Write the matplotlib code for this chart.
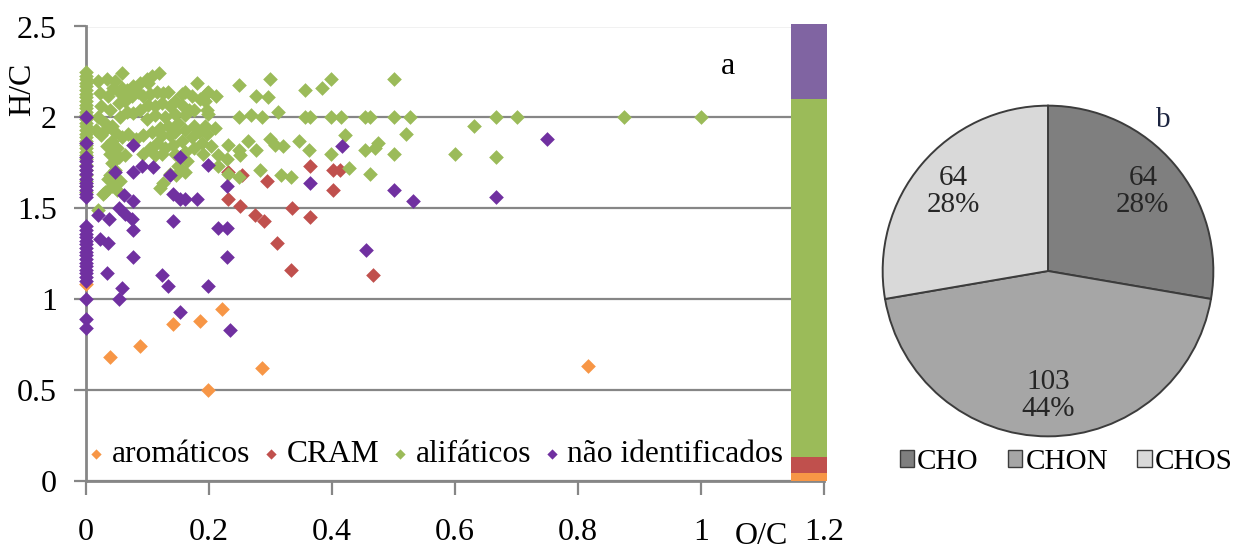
import matplotlib.pyplot as plt
from matplotlib.patches import Patch
import numpy as np

plt.rcParams["font.family"] = ["Liberation Serif", "DejaVu Serif"]

# ---- panel a: van Krevelen (O/C vs H/C) ----
arom_oc = [0.0, 0.039, 0.087, 0.142, 0.185, 0.221, 0.199, 0.286, 0.817]
arom_hc = [1.08, 0.68, 0.74, 0.86, 0.877, 0.945, 0.497, 0.619, 0.63]

cram_oc = [0.231, 0.253, 0.295, 0.231, 0.250, 0.275, 0.289, 0.335,
           0.364, 0.364, 0.401, 0.413, 0.401, 0.310, 0.334, 0.467]
cram_hc = [1.70, 1.68, 1.65, 1.55, 1.51, 1.46, 1.43, 1.50,
           1.45, 1.73, 1.71, 1.71, 1.60, 1.31, 1.16, 1.13]

alif_oc = [
    0.0, 0.0, 0.0, 0.0, 0.0, 0.0, 0.0, 0.0, 0.0, 0.0, 0.0, 0.0, 0.0, 0.0,
    0.0, 0.0, 0.0, 0.0, 0.0, 0.0, 0.0, 0.0, 0.0, 0.0, 0.0, 0.0, 0.0, 0.0,
    0.0, 0.0, 0.0,
    0.020, 0.034, 0.058, 0.047, 0.118, 0.108, 0.099, 0.088, 0.077, 0.066,
    0.055, 0.044, 0.036, 0.023, 0.025, 0.020, 0.017, 0.031, 0.042, 0.039,
    0.053, 0.063, 0.074, 0.085, 0.093, 0.104, 0.115, 0.126, 0.134, 0.161,
    0.180, 0.199, 0.212, 0.194, 0.196, 0.172, 0.156, 0.145, 0.137, 0.123,
    0.112, 0.101, 0.088, 0.077, 0.066, 0.055, 0.099, 0.112, 0.128, 0.145,
    0.161, 0.168, 0.150, 0.134, 0.120, 0.107, 0.093, 0.082, 0.069, 0.058,
    0.047, 0.034, 0.025, 0.042, 0.034, 0.050, 0.039, 0.053, 0.042, 0.047,
    0.063, 0.036, 0.042, 0.031, 0.050, 0.055, 0.028, 0.123, 0.137, 0.145,
    0.161, 0.175, 0.183, 0.194, 0.210, 0.172, 0.156, 0.142, 0.128, 0.115,
    0.104, 0.093, 0.112, 0.123, 0.145, 0.161, 0.175, 0.188, 0.204, 0.191,
    0.164, 0.150, 0.161, 0.147, 0.137, 0.126, 0.120, 0.231, 0.248, 0.264,
    0.277, 0.250, 0.283, 0.299, 0.299, 0.277, 0.296, 0.248, 0.248, 0.269,
    0.286, 0.215, 0.231, 0.248, 0.229, 0.215, 0.101, 0.058, 0.020, 0.047,
    0.039, 0.156, 0.196, 0.185, 0.175, 0.199, 0.196,
    0.312, 0.356, 0.383, 0.399, 0.500, 0.356, 0.364, 0.399, 0.415, 0.453,
    0.462, 0.500, 0.527, 0.631, 0.667, 0.700, 0.875, 1.000, 0.521, 0.421,
    0.307, 0.320, 0.347, 0.363, 0.399, 0.453, 0.470, 0.475, 0.500, 0.600,
    0.667, 0.317, 0.333, 0.428, 0.461,
]
alif_hc = [
    2.25, 2.23, 2.21, 2.19, 2.17, 2.15, 2.13, 2.11, 2.09, 2.07, 2.05, 2.03,
    2.01, 1.99, 1.97, 1.95, 1.93, 1.91, 1.89, 1.87, 1.85, 1.83, 1.81, 1.79,
    1.77, 1.74, 1.71, 1.68, 1.65, 1.62, 1.59,
    2.20, 2.21, 2.245, 2.20, 2.245, 2.227, 2.21, 2.19, 2.175, 2.15,
    2.135, 2.16, 2.12, 2.135, 2.06, 2.00, 1.93, 1.97, 1.95, 2.04,
    2.08, 2.09, 2.12, 2.14, 2.12, 2.13, 2.14, 2.135, 2.14, 2.14,
    2.19, 2.14, 2.12, 2.09, 2.04, 2.12, 2.07, 2.09, 2.06, 2.08,
    2.06, 2.07, 2.04, 2.025, 2.03, 2.00, 1.99, 2.01, 2.00, 2.02,
    2.01, 2.04, 1.97, 1.95, 1.94, 1.92, 1.905, 1.88, 1.91, 1.89,
    1.92, 1.94, 1.90, 1.87, 1.84, 1.83, 1.80, 1.78, 1.75, 1.71,
    1.79, 1.66, 1.62, 1.59, 1.60, 1.65, 1.58, 1.905, 1.90, 1.92,
    1.93, 1.95, 1.92, 1.95, 1.94, 1.89, 1.87, 1.85, 1.83, 1.86,
    1.83, 1.80, 1.79, 1.80, 1.80, 1.81, 1.83, 1.86, 1.84, 1.80,
    1.76, 1.73, 1.70, 1.685, 1.69, 1.64, 1.61, 1.845, 1.82, 1.87,
    1.82, 1.79, 1.71, 1.88, 2.21, 2.12, 2.11, 2.18, 2.00, 2.01,
    2.00, 1.73, 1.69, 1.67, 1.77, 1.79, 2.19, 2.16, 1.49, 1.65,
    1.68, 2.13, 2.135, 2.10, 2.04, 2.02, 1.91,
    2.03, 2.15, 2.16, 2.21, 2.21, 2.00, 2.00, 2.00, 2.00, 2.00,
    2.00, 2.00, 2.00, 1.95, 2.00, 2.00, 2.00, 2.00, 1.91, 1.90,
    1.85, 1.84, 1.87, 1.82, 1.80, 1.82, 1.83, 1.86, 1.80, 1.80,
    1.78, 1.68, 1.67, 1.72, 1.69,
]

nid_oc = [
    0.0, 0.0, 0.0, 0.0, 0.0, 0.0, 0.0, 0.0, 0.0, 0.0, 0.0, 0.0, 0.0, 0.0,
    0.0, 0.0, 0.0, 0.0, 0.0, 0.0, 0.0, 0.0, 0.0, 0.0, 0.0, 0.0, 0.0, 0.0,
    0.0, 0.0, 0.0, 0.0,
    0.020, 0.038, 0.023, 0.036, 0.034, 0.047, 0.053, 0.058, 0.054, 0.061,
    0.063, 0.074, 0.077, 0.076, 0.076, 0.076, 0.076, 0.091, 0.109, 0.123,
    0.134, 0.136, 0.141, 0.142, 0.153, 0.153, 0.161, 0.153, 0.181, 0.199,
    0.199, 0.215, 0.230, 0.230, 0.230, 0.234, 0.364, 0.416, 0.455, 0.500,
    0.532, 0.667, 0.750,
]
nid_hc = [
    2.00, 1.86, 1.78, 1.76, 1.73, 1.71, 1.69, 1.66, 1.64, 1.62, 1.60, 1.58,
    1.56, 1.40, 1.38, 1.36, 1.34, 1.32, 1.30, 1.28, 1.26, 1.24, 1.22, 1.20,
    1.18, 1.16, 1.14, 1.12, 1.10, 1.00, 0.89, 0.84,
    1.46, 1.44, 1.33, 1.31, 1.14, 1.70, 1.50, 1.06, 1.00, 1.57,
    1.47, 1.44, 1.38, 1.85, 1.70, 1.54, 1.23, 1.73, 1.725, 1.13,
    1.07, 1.685, 1.58, 1.43, 1.78, 1.55, 1.55, 0.93, 1.55, 1.74,
    1.07, 1.39, 1.39, 1.62, 1.23, 0.83, 1.64, 1.84, 1.27, 1.60,
    1.54, 1.56, 1.88,
]

series_names = ["aromáticos", "CRAM", "alifáticos", "não identificados"]
series_colors = ["#f79646", "#c0504d", "#9bbb59", "#7030a0"]

# stacked bar on the right edge (H/C units)
bar_heights = [0.043, 0.088, 1.969, 0.414]
bar_colors = ["#f79646", "#c0504d", "#9bbb59", "#8064a2"]

x_ticks = [0, 0.2, 0.4, 0.6, 0.8, 1.0, 1.2]
x_ticklabels = ["0", "0.2", "0.4", "0.6", "0.8", "1", "1.2"]
y_ticks = [0, 0.5, 1.0, 1.5, 2.0, 2.5]
y_ticklabels = ["0", "0.5", "1", "1.5", "2", "2.5"]

# ---- panel b: pie ----
pie_names = ["CHO", "CHON", "CHOS"]
pie_counts = [64, 103, 64]
pie_pcts = ["28%", "44%", "28%"]
pie_colors = ["#7f7f7f", "#a6a6a6", "#d9d9d9"]

W, H = 1234, 552
grey = "#868686"
fs = 23


def fx(px):
    return px / W


def fy(py):
    return 1 - py / H


fig = plt.figure(figsize=(W / 100, H / 100), dpi=100)

ax = fig.add_axes([fx(86), fy(480.5), 738 / W, 454 / H])
ax.set_xlim(0, 1.2)
ax.set_ylim(0, 2.5)

ax.yaxis.grid(True, color=grey, lw=1.6)
ax.set_axisbelow(True)
for side in ["top", "right"]:
    ax.spines[side].set_visible(False)
for side in ["left", "bottom"]:
    ax.spines[side].set_color(grey)
    ax.spines[side].set_linewidth(2)

ax.set_xticks(x_ticks)
ax.set_xticklabels(x_ticklabels)
ax.set_yticks(y_ticks)
ax.set_yticklabels(y_ticklabels)
ax.tick_params(axis="both", direction="out", color=grey, width=1.6, labelsize=fs)
ax.tick_params(axis="x", length=10, pad=17)
ax.tick_params(axis="y", length=9, pad=12)

data = [(arom_oc, arom_hc), (cram_oc, cram_hc), (alif_oc, alif_hc), (nid_oc, nid_hc)]
handles = []
for (xs, ys), name, c in zip(data, series_names, series_colors):
    h = ax.scatter(xs, ys, marker="D", s=56, color=c, linewidths=0,
                   zorder=3, clip_on=False, label=name)
    handles.append(h)

bottom = 0
for hgt, c in zip(bar_heights, bar_colors):
    ax.bar(1.146, hgt, bottom=bottom, width=0.059, align="edge", color=c,
           linewidth=0, zorder=4, clip_on=False)
    bottom += hgt

ax.legend(handles=handles, loc="center left", bbox_to_anchor=(-0.001, 0.057),
          ncol=4, frameon=False, fontsize=22.7, markerscale=0.7,
          handlelength=0.7, handletextpad=0.15, columnspacing=0.3,
          borderaxespad=0, borderpad=0)

ax.text(1.044, 2.28, "a", fontsize=fs, ha="center", va="center")
fig.text(fx(23), fy(89), "H/C", fontsize=fs, rotation=90,
         ha="center", va="center")
fig.text(fx(761), fy(551), "O/C", fontsize=fs, ha="center", va="bottom")

# pie
ax2 = fig.add_axes([fx(881), fy(438), 334 / W, 334 / H])
wedges, _ = ax2.pie(pie_counts, colors=pie_colors, startangle=90,
                    counterclock=False, radius=1,
                    wedgeprops=dict(edgecolor="#3c3c3c", linewidth=1.4))
ax2.set_xlim(-1.01, 1.01)
ax2.set_ylim(-1.01, 1.01)
ax2.set_aspect("auto")
for w, n, p in zip(wedges, pie_counts, pie_pcts):
    mid = np.deg2rad((w.theta1 + w.theta2) / 2)
    ax2.text(0.75 * np.cos(mid), 0.75 * np.sin(mid), f"{n}\n{p}",
             ha="center", va="center", fontsize=21, color="#262626",
             linespacing=1.05)

fig.text(fx(1163), fy(120), "b", fontsize=21, color="#1c2440",
         ha="center", va="center")

pie_handles = [Patch(facecolor=c, edgecolor="#3c3c3c", linewidth=1.0)
               for c in pie_colors]
fig.legend(pie_handles, pie_names, loc="center", bbox_to_anchor=(fx(1066), fy(462)),
           ncol=3, frameon=False, fontsize=21, handlelength=0.5,
           handleheight=0.5, handletextpad=0.1, columnspacing=1.0,
           borderpad=0)

fig.savefig("out.png", dpi=100)
